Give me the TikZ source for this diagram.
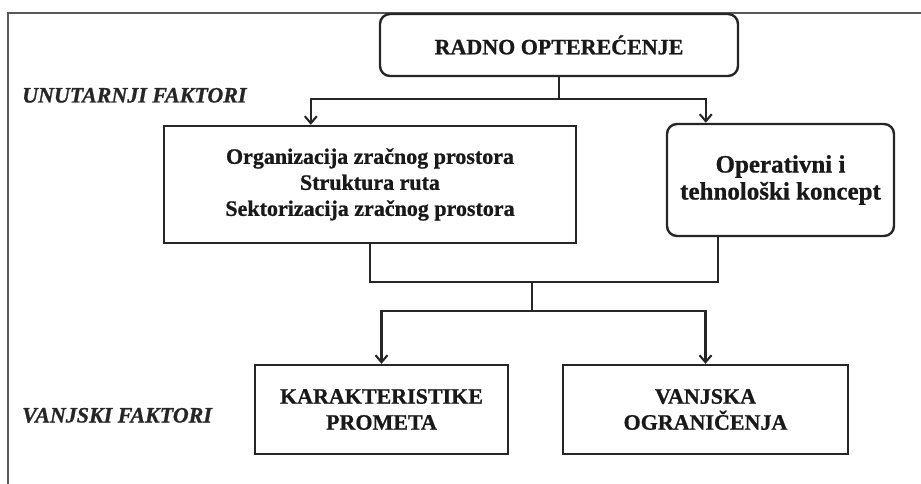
\documentclass[tikz,border=0pt]{standalone}
\usepackage{fontspec}
\setmainfont[BoldFeatures={FakeBold=0.9},BoldItalicFeatures={FakeBold=0.9}]{Liberation Serif}
\usetikzlibrary{arrows.meta}
\tikzset{
  boxtext/.style={font={\fontsize{22}{26}\selectfont\bfseries}, align=center, text=black!90},
  sqbox/.style={boxtext, draw=black!85, line width=2.4pt, inner sep=0pt},
  rbox/.style={sqbox, rounded corners=10pt},
  conn/.style={draw=black!85, line width=2.1pt},
  arr/.style={conn, -{Straight Barb[length=7pt,width=12pt,line width=2.1pt]}},
  sidelabel/.style={font={\fontsize{22}{26}\selectfont\bfseries\itshape}, anchor=base west, inner sep=0pt, text=black!85},
}
\begin{document}
\begin{tikzpicture}[x=1pt,y=-1pt]
\useasboundingbox (0,0) rectangle (921,484);
\draw[draw=black!65, line width=1.5pt] (8,484) -- (8,13) -- (921,13);

\node[rbox, minimum width=358pt, minimum height=62pt] (top) at (559,45) {RADNO OPTEREĆENJE};
\node[sqbox, minimum width=412pt, minimum height=117pt] (org) at (370,184.5)
  {Organizacija zračnog prostora\\Struktura ruta\\Sektorizacija zračnog prostora};
\node[rbox, minimum width=227pt, minimum height=112pt, font={\fontsize{25}{27}\selectfont\bfseries}] (oper) at (780.5,180)
  {Operativni i\\tehnološki koncept};
\node[sqbox, minimum width=253pt, minimum height=89pt] (kar) at (381.5,409.5)
  {KARAKTERISTIKE\\PROMETA};
\node[sqbox, minimum width=285pt, minimum height=89pt] (vanj) at (705.5,409.5)
  {VANJSKA\\OGRANIČENJA};

\node[sidelabel] (unut) at (22,102.5) {UNUTARNJI FAKTORI};
\node[sidelabel] (vanjf) at (22,422.5) {VANJSKI FAKTORI};

\coordinate (j1) at (559,99);
\coordinate (j2) at (532,282);
\coordinate (j3) at (532,311);

\draw[conn] (top.south) -- (j1);
\draw[arr] (j1) -| ([xshift=148pt]org.north west);
\draw[arr] (j1) -| ([xshift=40pt]oper.north west);

\draw[conn] (org.south) |- (j2);
\draw[conn] ([xshift=-62.5pt]oper.south) |- (j2);
\draw[conn] (j2) -- (j3);
\draw[arr] (j3) -| (kar.north);
\draw[arr] (j3) -| (vanj.north);
\end{tikzpicture}
\end{document}
